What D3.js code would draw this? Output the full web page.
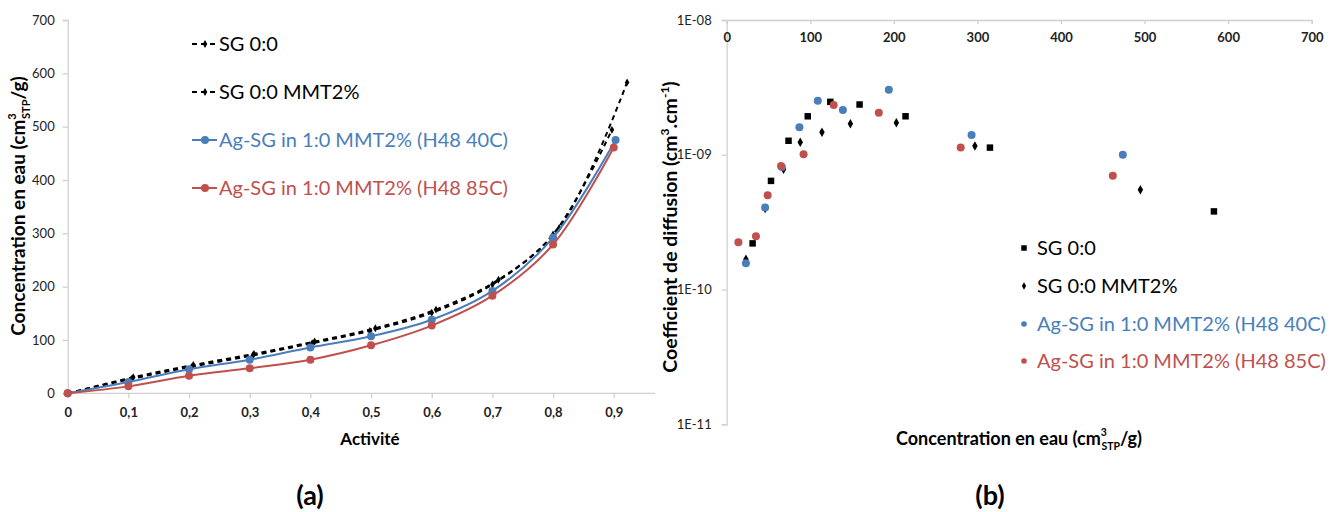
<!DOCTYPE html>
<html><head><meta charset="utf-8">
<script src="https://d3js.org/d3.v7.min.js"></script>
<style>
body{margin:0;background:#fff;}
svg text{font-family:Lato,"Open Sans",sans-serif;}
</style></head>
<body><svg id="c" width="1341" height="512"></svg>
<script>
// ---------- Data: chart (a) ----------
const seriesNames = ["SG 0:0", "SG 0:0 MMT2%", "Ag-SG in 1:0 MMT2% (H48 40C)", "Ag-SG in 1:0 MMT2% (H48 85C)"];
const actSG = [0, 0.108, 0.207, 0.307, 0.407, 0.507, 0.607, 0.71, 0.81, 0.922];
const concSG = [0, 30, 53, 74, 97, 122, 157, 213, 310, 583];
const actMMT = [0, 0.105, 0.205, 0.305, 0.403, 0.498, 0.6, 0.7, 0.8, 0.897];
const concMMT = [0, 27, 50, 71, 94, 117, 151, 204, 298, 494];
const act40 = [0, 0.1, 0.2, 0.3, 0.4, 0.5, 0.6, 0.7, 0.8, 0.903];
const conc40 = [0, 21, 45, 63, 86, 107, 138, 192, 292, 475];
const act85 = [0, 0.1, 0.2, 0.3, 0.4, 0.5, 0.6, 0.7, 0.8, 0.9];
const conc85 = [0, 13, 33, 47, 63, 90, 127, 183, 279, 461];
const xTicksA = [0, 0.1, 0.2, 0.3, 0.4, 0.5, 0.6, 0.7, 0.8, 0.9];
const yTicksA = [0, 100, 200, 300, 400, 500, 600, 700];

// ---------- Data: chart (b) ----------
const cSG = [31, 53, 74, 97, 124, 159, 214, 315, 583];
const dSG = [2.2e-10, 6.4e-10, 1.27e-9, 1.93e-9, 2.47e-9, 2.36e-9, 1.93e-9, 1.13e-9, 3.8e-10];
const cMMT = [23, 46, 68, 88, 114, 148, 203, 297, 495];
const dMMT = [1.68e-10, 4.0e-10, 7.8e-10, 1.24e-9, 1.47e-9, 1.70e-9, 1.73e-9, 1.16e-9, 5.5e-10];
const c40 = [23, 46, 66, 87, 109, 139, 194, 293, 474];
const d40 = [1.57e-10, 4.07e-10, 8.1e-10, 1.6e-9, 2.52e-9, 2.15e-9, 3.04e-9, 1.40e-9, 1.0e-9];
const c85 = [14, 35, 49, 65, 92, 128, 182, 280, 462];
const d85 = [2.24e-10, 2.48e-10, 5.0e-10, 8.26e-10, 1.01e-9, 2.34e-9, 2.05e-9, 1.13e-9, 7.0e-10];
const xTicksB = [0, 100, 200, 300, 400, 500, 600, 700];
const yTicksB = [1e-11, 1e-10, 1e-9, 1e-8];
const yTickLabelsB = ["1E-11", "1E-10", "1E-09", "1E-08"];

const BLUE = "#4a7ebb", RED = "#c0504d", AXIS = "#d0d0d0", TXT = "#222";
const svg = d3.select("#c");

function zip(a, b){ return a.map((v,i)=>[v,b[i]]); }

// label with stacked superscript 3 and subscript STP
function unitLabel(t, pre, fs){
  t.append("tspan").text(pre);
  t.append("tspan").attr("dy", -0.5*fs).style("font-size", (fs*0.58)+"px").text("3");
  t.append("tspan").attr("dy", 0.78*fs).attr("dx", -fs*0.3).style("font-size", (fs*0.58)+"px").text("STP");
  t.append("tspan").attr("dy", -0.28*fs).text("/g)");
}

// ================= Chart (a) =================
const xA = d3.scaleLinear().domain([0, 0.968]).range([67.7, 655]);
const yA = d3.scaleLinear().domain([0, 700]).range([393.3, 20]);
const gA = svg.append("g");

const axA_y = gA.append("g").attr("transform", `translate(${xA(0)},0)`)
  .call(d3.axisLeft(yA).tickValues(yTicksA).tickSize(5).tickPadding(8).tickFormat(d3.format("d")));
const axA_x = gA.append("g").attr("transform", `translate(0,${yA(0)})`)
  .call(d3.axisBottom(xA).tickValues(xTicksA).tickSize(5).tickPadding(9).tickFormat(d => d===0 ? "0" : d3.format(".1f")(d).replace(".", ",")));
[axA_y, axA_x].forEach(a => {
  a.selectAll("path.domain, line").attr("stroke", AXIS).attr("stroke-width", 1.3);
  a.selectAll("text").attr("fill", TXT).style("font-size", "13px");
});
axA_x.selectAll("text").style("font-weight", "bold");
axA_x.select("path.domain").attr("d", `M${xA(0)},0H655`);

const lineA = d3.line().x(d=>xA(d[0])).y(d=>yA(d[1])).curve(d3.curveCatmullRom.alpha(0.5));
const dSGa = zip(actSG, concSG), dMMTa = zip(actMMT, concMMT), d40a = zip(act40, conc40), d85a = zip(act85, conc85);
const diamond = d3.symbol().type(d3.symbolDiamond).size(18);

function dashed(data){
  gA.append("path").datum(data).attr("d", lineA).attr("fill","none").attr("stroke","#000")
    .attr("stroke-width",2).attr("stroke-dasharray","5,4");
  gA.selectAll(null).data(data).enter().append("path").attr("d", diamond)
    .attr("transform", d=>`translate(${xA(d[0])},${yA(d[1])})`).attr("fill","#000");
}
function solid(data, col){
  gA.append("path").datum(data).attr("d", lineA).attr("fill","none").attr("stroke",col).attr("stroke-width",2);
  gA.selectAll(null).data(data).enter().append("circle").attr("cx", d=>xA(d[0])).attr("cy", d=>yA(d[1]))
    .attr("r", 4).attr("fill", col);
}
dashed(dSGa); dashed(dMMTa); solid(d40a, BLUE); solid(d85a, RED);

// legend (a)
const legA = [{c:"#000",t:"dash"},{c:"#000",t:"dash"},{c:BLUE,t:"solid"},{c:RED,t:"solid"}];
const legAy = [44, 92, 140, 188];
legA.forEach((l,i) => {
  const y = legAy[i];
  const g = gA.append("g");
  g.append("line").attr("x1",192).attr("x2",217).attr("y1",y).attr("y2",y).attr("stroke",l.c).attr("stroke-width",2)
    .attr("stroke-dasharray", l.t==="dash" ? "5,4" : null);
  if(l.t==="dash") g.append("path").attr("d", diamond).attr("transform",`translate(205,${y})`).attr("fill","#000");
  else g.append("circle").attr("cx",205).attr("cy",y).attr("r",4).attr("fill",l.c);
  g.append("text").attr("x",219).attr("y",y).attr("dy","0.35em").attr("fill", l.c==="#000" ? "#000" : l.c)
    .style("font-size","20px").text(seriesNames[i]);
});

// axis titles (a)
gA.append("text").attr("x", 370).attr("y", 445).attr("text-anchor","middle")
  .style("font-size","17px").style("font-weight","bold").attr("fill","#000").text("Activité");
const ytA = gA.append("text").attr("transform","translate(25,206) rotate(-90)").attr("text-anchor","middle")
  .style("font-size","19px").style("font-weight","bold").attr("fill","#000");
unitLabel(ytA, "Concentration en eau (cm", 19);

svg.append("text").attr("x",310).attr("y",505).attr("text-anchor","middle")
  .style("font-size","27px").style("font-weight","bold").attr("fill","#000").text("(a)");

// ================= Chart (b) =================
const xB = d3.scaleLinear().domain([0, 700]).range([726.7, 1311.7]);
const yB = d3.scaleLog().domain([1e-11, 1e-8]).range([424.3, 20]);
const gB = svg.append("g");

const axB_y = gB.append("g").attr("transform", `translate(${xB(0)},0)`)
  .call(d3.axisLeft(yB).tickValues(yTicksB).tickSize(5).tickPadding(10).tickFormat((d,i)=>yTickLabelsB[i]));
const axB_x = gB.append("g").attr("transform", `translate(0,${yB(1e-8)})`)
  .call(d3.axisBottom(xB).tickValues(xTicksB).tickSize(4).tickPadding(9).tickFormat(d3.format("d")));
[axB_y, axB_x].forEach(a => {
  a.selectAll("path.domain, line").attr("stroke", AXIS).attr("stroke-width", 1.3);
  a.selectAll("text").attr("fill", TXT).style("font-size","13px");
});
axB_x.selectAll("text").style("font-weight","bold");

const square = d3.symbol().type(d3.symbolSquare).size(42);
const diamondB = d3.symbol().type(d3.symbolDiamond).size(26);
gB.selectAll(null).data(zip(cSG,dSG)).enter().append("path").attr("d", square)
  .attr("transform", d=>`translate(${xB(d[0])},${yB(d[1])})`).attr("fill","#000");
gB.selectAll(null).data(zip(cMMT,dMMT)).enter().append("path").attr("d", diamondB)
  .attr("transform", d=>`translate(${xB(d[0])},${yB(d[1])})`).attr("fill","#000");
gB.selectAll(null).data(zip(c40,d40)).enter().append("circle").attr("cx", d=>xB(d[0])).attr("cy", d=>yB(d[1]))
  .attr("r",4).attr("fill",BLUE);
gB.selectAll(null).data(zip(c85,d85)).enter().append("circle").attr("cx", d=>xB(d[0])).attr("cy", d=>yB(d[1]))
  .attr("r",4).attr("fill",RED);

// legend (b)
const legBy = [248, 286, 324, 361];
legBy.forEach((y,i) => {
  const g = gB.append("g");
  if(i===0) g.append("path").attr("d", d3.symbol().type(d3.symbolSquare).size(30)).attr("transform",`translate(1024,${y})`).attr("fill","#000");
  else if(i===1) g.append("path").attr("d", d3.symbol().type(d3.symbolDiamond).size(16)).attr("transform",`translate(1024,${y})`).attr("fill","#000");
  else g.append("circle").attr("cx",1024).attr("cy",y).attr("r",2.8).attr("fill", i===2?BLUE:RED);
  g.append("text").attr("x",1037).attr("y",y).attr("dy","0.35em").attr("fill", i<2 ? "#000" : (i===2?BLUE:RED))
    .style("font-size","20px").text(seriesNames[i]);
});

// axis titles (b)
const xtB = gB.append("text").attr("x",1019).attr("y",445).attr("text-anchor","middle")
  .style("font-size","18px").style("font-weight","bold").attr("fill","#000");
unitLabel(xtB, "Concentration en eau (cm", 18);

const ytB = gB.append("text").attr("transform","translate(677,227) rotate(-90)").attr("text-anchor","middle")
  .style("font-size","19.5px").style("font-weight","bold").attr("fill","#000");
ytB.append("tspan").text("Coefficient de diffusion (cm");
ytB.append("tspan").attr("dy","-8").style("font-size","12px").text("3");
ytB.append("tspan").attr("dy","8").text(".cm");
ytB.append("tspan").attr("dy","-8").style("font-size","12px").text("-1");
ytB.append("tspan").attr("dy","8").text(")");

svg.append("text").attr("x",990).attr("y",505).attr("text-anchor","middle")
  .style("font-size","27px").style("font-weight","bold").attr("fill","#000").text("(b)");
</script></body></html>
